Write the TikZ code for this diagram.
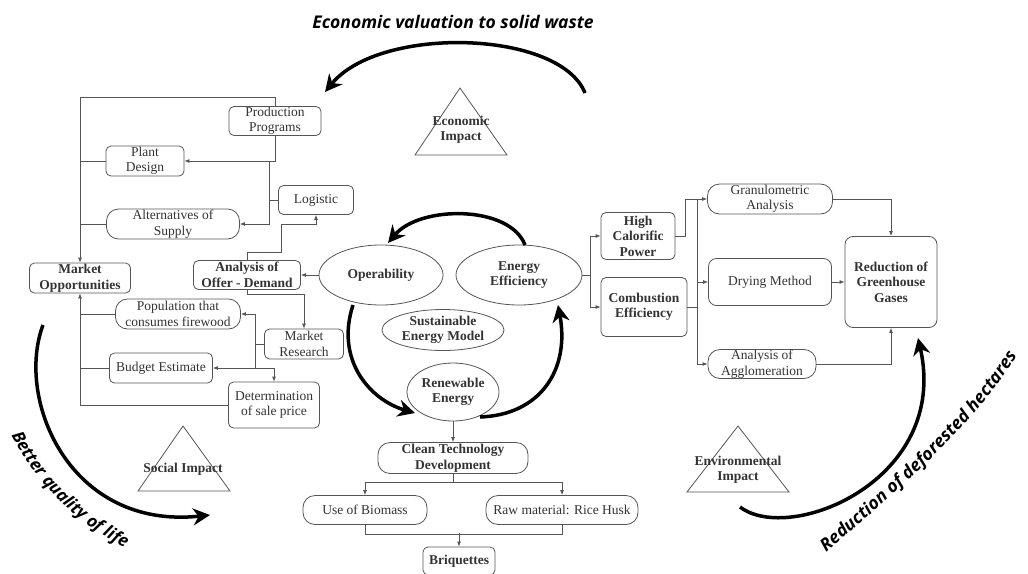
\documentclass[tikz,border=0pt]{standalone}
\usepackage{fontspec}
\setmainfont{Liberation Serif}
\newfontfamily\arcfont{Open Sans}
\usetikzlibrary{arrows.meta,shapes.geometric,calc,decorations.text}
\definecolor{linec}{HTML}{555555}
\definecolor{txt}{HTML}{333333}
\tikzset{
  box/.style={draw=linec, rounded corners=5pt, fill=white, text=txt, align=center,
    font=\fontsize{13.5}{15.5}\selectfont, inner sep=0pt, line width=0.8pt},
  pill/.style={box, rounded corners=12pt},
  bbox/.style={box, font=\fontsize{13.5}{15.5}\selectfont\bfseries},
  bpill/.style={pill, font=\fontsize{13.5}{15.5}\selectfont\bfseries},
  ell/.style={ellipse, draw=linec, fill=white, text=txt, align=center,
    font=\fontsize{13.5}{15.5}\selectfont\bfseries, inner sep=0pt, line width=0.8pt},
  ln/.style={draw=linec, line width=0.8pt},
  arr/.style={ln, -{Latex[length=5pt,width=4pt]}},
  bigarrow/.style={line width=3.5pt, black, -{Stealth[length=17pt,width=17pt]}},
  arclabel/.style={font=\fontsize{17.5}{20}\arcfont\bfseries\itshape, text=black, inner sep=0pt},
  tri/.style={draw=linec, line width=0.8pt},
  trilabel/.style={text=txt, align=center, font=\fontsize{13.5}{15}\selectfont\bfseries, inner sep=0pt}
}
\begin{document}
\begin{tikzpicture}[x=1pt,y=-1pt]
\useasboundingbox (0,0) rectangle (1028,573);
\fill[white] (0,0) rectangle (1028,573);

% ---- titles along arcs
\node[arclabel] (t1) at (453,22) {Economic valuation to solid waste};
\path[decorate, decoration={text along path, text align=center,
  text={|\fontsize{17}{20}\arcfont\bfseries\itshape|Better quality of life}}]
  (-2,404) .. controls (22,472) and (76,532) .. (156,561);
\path[decorate, decoration={text along path, text align=center,
  text={|\fontsize{17.5}{20}\arcfont\bfseries\itshape|Reduction of deforested hectares}}]
  (810,566) .. controls (884,502) and (978,427) .. (1028,338);

% ---- big outer arrows
\draw[bigarrow] (585,93) .. controls (560,30) and (380,25) .. (325,92);
\draw[bigarrow] (43,325) .. controls (15,400) and (70,530) .. (210,515);
\draw[bigarrow] (740,507) .. controls (790,545) and (950,480) .. (918,338);

% ---- triangles
\draw[tri] (460,88) -- (415,155) -- (507,155) -- cycle;
\node[trilabel] (ei) at (461,130) {Economic\\Impact};
\draw[tri] (183,426) -- (138,491) -- (230,491) -- cycle;
\node[trilabel] (si) at (183,469) {Social Impact};
\draw[tri] (738,426) -- (687,492) -- (789,492) -- cycle;
\node[trilabel] (envi) at (738,470) {Environmental\\Impact};

% ---- left upper block
\node[box, minimum width=92pt, minimum height=29pt] (pp) at (275,121) {Production\\Programs};
\node[box, minimum width=78pt, minimum height=30pt] (pd) at (145,161) {Plant\\Design};
\node[box, minimum width=75pt, minimum height=29pt] (lg) at (316,200) {Logistic};
\node[pill, minimum width=133pt, minimum height=30pt] (as) at (173,224) {Alternatives of\\Supply};
\node[bbox, minimum width=107pt, minimum height=29pt] (an) at (247,275) {Analysis of\\Offer - Demand};
\node[bbox, minimum width=101pt, minimum height=30pt] (mo) at (80,278) {Market\\Opportunities};

% ---- left lower block
\node[pill, minimum width=125pt, minimum height=30pt] (pop) at (178,314) {Population that\\consumes firewood};
\node[box, minimum width=79pt, minimum height=30pt] (mr) at (304,344) {Market\\Research};
\node[box, minimum width=103pt, minimum height=30pt] (be) at (161,368) {Budget Estimate};
\node[box, minimum width=91pt, minimum height=46pt] (dp) at (274,405) {Determination\\of sale price};

% ---- centre
\node[ell, minimum width=124pt, minimum height=60pt] (op) at (381,275) {Operability};
\node[ell, minimum width=126pt, minimum height=60pt] (ee) at (519,275) {Energy\\Efficiency};
\node[ell, minimum width=122pt, minimum height=41pt] (sem) at (443,330) {Sustainable\\Energy Model};
\node[ell, minimum width=92pt, minimum height=58pt] (re) at (453,392) {Renewable\\Energy};
\node[bpill, minimum width=150pt, minimum height=31pt] (ctd) at (453,458) {Clean Technology\\Development};
\node[pill, minimum width=124pt, minimum height=29pt] (ub) at (365,510) {Use of Biomass};
\node[pill, minimum width=152pt, minimum height=29pt] (rm) at (562,510) {Raw material: Rice Husk};
\node[bbox, minimum width=72pt, minimum height=28pt] (br) at (459,561) {Briquettes};

% ---- right block
\node[bbox, minimum width=74pt, minimum height=47pt] (hcp) at (638,236) {High\\Calorific\\Power};
\node[bbox, minimum width=86pt, minimum height=59pt] (ce) at (644,307) {Combustion\\Efficiency};
\node[pill, minimum width=125pt, minimum height=30pt] (ga) at (770,199) {Granulometric\\Analysis};
\node[box, rounded corners=8pt, minimum width=123pt, minimum height=47pt] (dm) at (770,282) {Drying Method};
\node[pill, minimum width=108pt, minimum height=29pt] (aa) at (762,364) {Analysis of\\Agglomeration};
\node[bbox, rounded corners=8pt, minimum width=92pt, minimum height=91pt] (rgg) at (891,282) {Reduction of\\Greenhouse\\Gases};

% ---- connectors: left upper
\draw[arr] (pp.north) |- (80,97) -- (mo.north);
\draw[arr] (pp.south) |- (pd.east);
\draw[ln] (pd.west) -- (pd.west -| mo.north);
\draw[ln] (as.west) -- (as.west -| mo.north);
\coordinate (lj) at (269,200);
\draw[ln] (lg.west) -- (lj);
\draw[ln] (lj) -- (lj |- pd.east);
\draw[arr] (lj) |- (as.east);
\draw[arr] (an.north) |- (281,252) |- (316,224) -- (lg.south);
\draw[arr] (op.west) -- (an.east);

% ---- connectors: left lower
\draw[arr] (dp.west) -| (mo.south);
\draw[ln] (pop.west) -- (pop.west -| mo.south);
\draw[ln] (be.west) -- (be.west -| mo.south);
\draw[arr] (an.south) -- ++(0,4) -| (mr.north);
\coordinate (mj) at (255,344);
\draw[ln] (mr.west) -- (mj);
\draw[arr] (mj) |- (pop.east);
\draw[arr] (mj) |- (be.east);
\draw[arr] (mj |- be.east) -| (dp.north);

% ---- connectors: centre
\draw[arr] (re.south) -- (ctd.north);
\draw[arr] (ctd.south) -- ++(0,8) -| (ub.north);
\draw[arr] (ctd.south) -- ++(0,8) -| (rm.north);
\draw[ln] (ub.south) -- ++(0,9) -| (rm.south);
\coordinate (bj) at (459,533);
\draw[arr] (bj) -- (br.north);

% ---- connectors: right
\coordinate (ej) at (590,275);
\draw[ln] (ee.east) -- (ej);
\draw[arr] (ej) |- (hcp.west);
\draw[arr] (ej) |- (ce.west);
\draw[arr] (hcp.east) -- (685,236) |- (ga.west);
\coordinate (cj) at (697,307);
\draw[ln] (ce.east) -- (cj);
\draw[ln] (cj) -- (cj |- ga.west);
\draw[arr] (cj) |- (dm.west);
\draw[arr] (cj) |- (aa.west);
\draw[arr] (ga.east) -| (rgg.north);
\draw[arr] (dm.east) -- (rgg.west);
\draw[arr] (aa.east) -| (rgg.south);

% ---- central cycle arrows
\draw[bigarrow] (525,245) .. controls (510,205) and (420,205) .. (388,243);
\draw[bigarrow] (353,305) .. controls (335,360) and (370,400) .. (415,413);
\draw[bigarrow] (480,417) .. controls (540,415) and (570,370) .. (558,305);
\end{tikzpicture}
\end{document}
